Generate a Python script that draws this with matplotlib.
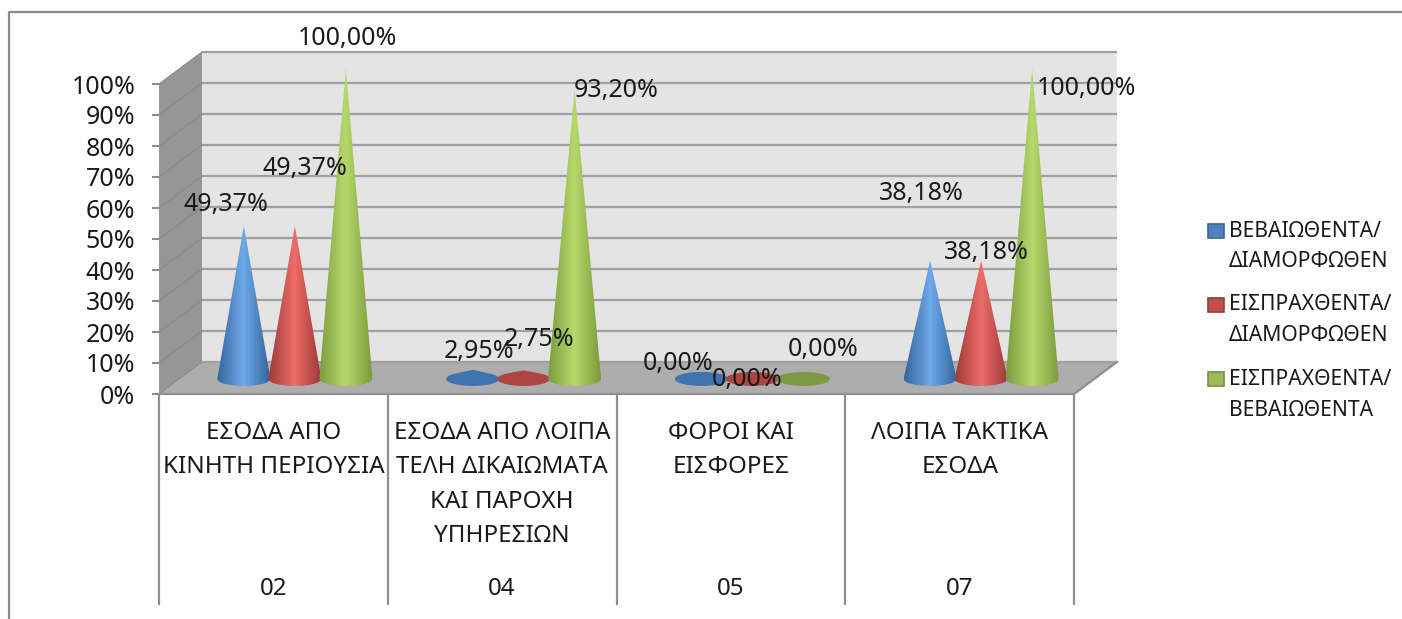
import numpy as np
import matplotlib
matplotlib.use("Agg")
import matplotlib.pyplot as plt
from matplotlib.patches import Polygon, Rectangle
from matplotlib.colors import LinearSegmentedColormap
from matplotlib.ticker import PercentFormatter

plt.rcParams['font.family'] = ['Noto Sans', 'DejaVu Sans']

categories = ["ΕΣΟΔΑ ΑΠΟ\nΚΙΝΗΤΗ ΠΕΡΙΟΥΣΙΑ",
              "ΕΣΟΔΑ ΑΠΟ ΛΟΙΠΑ\nΤΕΛΗ ΔΙΚΑΙΩΜΑΤΑ\nΚΑΙ ΠΑΡΟΧΗ\nΥΠΗΡΕΣΙΩΝ",
              "ΦΟΡΟΙ ΚΑΙ\nΕΙΣΦΟΡΕΣ",
              "ΛΟΙΠΑ ΤΑΚΤΙΚΑ\nΕΣΟΔΑ"]
codes = ["02", "04", "05", "07"]
series_names = ["ΒΕΒΑΙΩΘΕΝΤΑ/\nΔΙΑΜΟΡΦΩΘΕΝ", "ΕΙΣΠΡΑΧΘΕΝΤΑ/\nΔΙΑΜΟΡΦΩΘΕΝ", "ΕΙΣΠΡΑΧΘΕΝΤΑ/\nΒΕΒΑΙΩΘΕΝΤΑ"]
vals_blue = [49.37, 2.95, 0.00, 38.18]
vals_red = [49.37, 2.75, 0.00, 38.18]
vals_green = [100.00, 93.20, 0.00, 100.00]
series = [vals_blue, vals_red, vals_green]
y_ticks = list(range(0, 101, 10))

# dark edge, light centre, small-cone colour, legend colour, legend edge
palette = [("#33659b", "#6fa9ea", "#3f74b0", "#4f81bd", "#3a6596"),
           ("#9c3a38", "#ee6c69", "#ad4542", "#c0504d", "#963e3b"),
           ("#7c9b3e", "#b6d96a", "#7d9a42", "#9bbb59", "#76923f")]
# label centre offsets in pixels from the cone apex (dx, dy up)
label_off = [[(-18, 21), (6, 18), (-23.5, 15), (-9, 66.6)],
             [(10, 57), (15, 31), (-5.5, -1), (5, 7.6)],
             [(2, 30), (42, 0), (20, 29), (54, -20)]]

W, H = 1402, 619
dpi = 100
fig = plt.figure(figsize=(W / dpi, H / dpi), dpi=dpi)
X0, X1, Y0, Y100 = 159, 1074, 394, 84     # front plane in pixels
ax = fig.add_axes([X0 / W, 1 - Y0 / H, (X1 - X0) / W, (Y0 - Y100) / H])
n = len(categories)
cat_px = (X1 - X0) / n
val_px = (Y0 - Y100) / 100
DX, DY = 43 / cat_px, 32 / val_px        # depth offset in data units

for s in ax.spines.values():
    s.set_visible(False)
ax.patch.set_alpha(0)
ax.set_xticks([])
ax.set_yticks(y_ticks)
ax.yaxis.set_major_formatter(PercentFormatter(decimals=0))
ax.tick_params(axis='y', length=5, width=1.5, color="#8c8c8c", labelsize=18, pad=12, labelcolor="#1a1a1a")

kw = dict(clip_on=False, lw=0)
ax.add_patch(Polygon([(DX, DY), (n + DX, DY), (n + DX, 100 + DY), (DX, 100 + DY)], fc="#e4e4e4", zorder=1, **kw))
ax.add_patch(Polygon([(0, 0), (DX, DY), (DX, 100 + DY), (0, 100)], fc="#969696", zorder=1, **kw))
ax.add_patch(Polygon([(0, 0), (n, 0), (n + DX, DY), (DX, DY)], fc="#adadad", zorder=1, **kw))
for t in y_ticks:
    ax.plot([DX, n + DX], [t + DY, t + DY], color="#a0a0a0", lw=1.6, zorder=2, clip_on=False, solid_capstyle='butt')
    ax.plot([0, DX], [t, t + DY], color="#8a8a8a", lw=0.8, zorder=2, clip_on=False)
ax.plot([0, n, n + DX], [0, 0, DY], color="#8f8f8f", lw=1.6, zorder=3, clip_on=False)

# category table under the axis
trans = ax.get_xaxis_transform()
tab_bottom = -(605 - Y0) / (Y0 - Y100)
for i in range(n + 1):
    ax.plot([i, i], [0, tab_bottom], transform=trans, color="#8f8f8f", lw=1.6, clip_on=False, zorder=3, solid_capstyle='butt')
for i, (c, code) in enumerate(zip(categories, codes)):
    ax.text(i + .5, 0 - (421 - Y0) / val_px, c, ha='center', va='top', fontsize=17.4, color="#1a1a1a", linespacing=1.58)
    ax.text(i + .5, 0 - (589 - Y0) / val_px, code, ha='center', va='center', fontsize=17.4, color="#1a1a1a")

# cones
R = 26.5 / cat_px
RY = 7 / val_px
offs = [-51 / cat_px, 0, 51 / cat_px]
for k, vals in enumerate(series):
    dark, light, flat, _, _ = palette[k]
    for i, v in enumerate(vals):
        cx = i + .5 + DX / 2 + offs[k]
        cy = DY / 2 - 0.3
        small = v < 5
        cmap = LinearSegmentedColormap.from_list("c", [flat, flat] if small else [dark, light, dark], 256)
        # outline: ellipse base joined to the apex along its tangents
        if v > RY:
            t0 = np.arcsin(RY / v)
            th = np.linspace(np.pi - t0, 2 * np.pi + t0, 60)
        else:
            th = np.linspace(0, 2 * np.pi, 80)
        pts = [(cx + R * np.cos(a), cy + RY * np.sin(a)) for a in th]
        if v > RY:
            pts.append((cx, cy + v))
        poly = Polygon(pts, closed=True, fc='none', lw=0, clip_on=False)
        ax.add_patch(poly)
        im = ax.imshow(np.linspace(0, 1, 256)[None, :], cmap=cmap, vmin=0, vmax=1, aspect='auto',
                       extent=[cx - R, cx + R, cy - RY, cy + max(v, RY)], zorder=5 + k)
        im.set_clip_box(fig.bbox)
        im.set_clip_path(poly)
        dx, dy = label_off[k][i]
        ax.annotate(f"{v:.2f}%".replace(".", ","), (cx, cy + v), xytext=(dx * 0.72, dy * 0.72),
                    textcoords='offset points', ha='center', va='center', fontsize=18,
                    color="#1a1a1a", zorder=20, annotation_clip=False)
ax.set_xlim(0, n)
ax.set_ylim(0, 100)

# legend
ly = [230.5, 304.5, 379]
for k, name in enumerate(series_names):
    y = 1 - ly[k] / H
    fig.add_artist(Rectangle((1208 / W, y - 7 / H), 16 / W, 14 / H, transform=fig.transFigure,
                             fc=palette[k][3], ec=palette[k][4], lw=1.2))
    fig.text(1229 / W, y + 10 / H, name, ha='left', va='top', fontsize=15.2, color="#1a1a1a", linespacing=1.6)

# outer chart frame
fig.add_artist(plt.Line2D([9 / W, 9 / W, 1 ], [0, 1 - 12 / H, 1 - 12 / H], transform=fig.transFigure, color="#8c8c8c", lw=1.6))
fig.savefig("out.png", dpi=dpi)
